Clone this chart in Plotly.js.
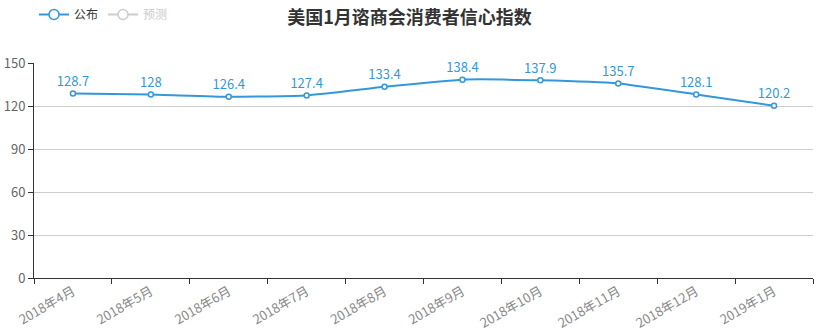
<!DOCTYPE html>
<html>
<head>
<meta charset="utf-8">
<script src="https://cdn.plot.ly/plotly-3.0.1.min.js"></script>
<style>html,body{margin:0;padding:0;background:#fff;}#chart{width:819px;height:333px;}</style>
</head>
<body>
<div id="chart"></div>
<script>
const categories = ["2018年4月","2018年5月","2018年6月","2018年7月","2018年8月","2018年9月","2018年10月","2018年11月","2018年12月","2019年1月"];
const published = [128.7, 128, 126.4, 127.4, 133.4, 138.4, 137.9, 135.7, 128.1, 120.2];
const forecast = [null, null, null, null, null, null, null, null, null, null];
const yTicks = [0, 30, 60, 90, 120, 150];

const font = '"Noto Sans CJK SC", "Noto Sans", sans-serif';
const blue = '#3398DB';
const gray = '#cccccc';

const traces = [
  {
    name: '公布',
    x: categories,
    y: published,
    type: 'scatter',
    mode: 'lines+markers+text',
    text: published.map(String),
    textposition: 'top center',
    textfont: {family: font, size: 13, color: blue},
    line: {color: blue, width: 2, shape: 'spline', smoothing: 0.4},
    marker: {symbol: 'circle', size: 5, color: '#fff', line: {color: blue, width: 1.5}},
    cliponaxis: false,
    showlegend: false,
    hoverinfo: 'x+y'
  },
  {
    name: '公布',
    x: categories,
    y: forecast,
    type: 'scatter',
    mode: 'lines+markers',
    line: {color: blue, width: 2},
    marker: {symbol: 'circle', size: 10, color: '#fff', line: {color: blue, width: 1.5}},
    hoverinfo: 'skip'
  },
  {
    name: '<span style="color:#cccccc">预测</span>',
    x: categories,
    y: forecast,
    type: 'scatter',
    mode: 'lines+markers',
    line: {color: gray, width: 2},
    marker: {symbol: 'circle', size: 10, color: '#fff', line: {color: gray, width: 1.5}},
    hoverinfo: 'skip'
  }
];

const layout = {
  width: 819,
  height: 333,
  margin: {l: 34, r: 6, t: 63, b: 55, autoexpand: false},
  paper_bgcolor: '#fff',
  plot_bgcolor: '#fff',
  font: {family: font, size: 12, color: '#666'},
  title: {
    text: '<b>美国1月谘商会消费者信心指数</b>',
    font: {family: font, size: 18, color: '#333'},
    x: 0.5, xanchor: 'center', xref: 'container',
    y: 0.946, yanchor: 'middle', yref: 'container'
  },
  showlegend: true,
  legend: {
    orientation: 'h',
    x: 0, xanchor: 'left', y: 1.0, yref: 'container', yanchor: 'top',
    font: {family: font, size: 12, color: '#333'},
    itemwidth: 30,
    bgcolor: 'rgba(0,0,0,0)'
  },
  xaxis: {
    type: 'category',
    range: [-0.5, categories.length - 0.5],
    automargin: false,
    tickson: 'boundaries',
    ticks: 'outside',
    ticklen: 5,
    tickcolor: '#333',
    showline: true,
    linecolor: '#333',
    linewidth: 1,
    showgrid: false,
    tickangle: -30,
    tickfont: {family: font, size: 13, color: '#888'},
    fixedrange: true
  },
  yaxis: {
    automargin: false,
    range: [0, 150],
    tickvals: yTicks,
    ticktext: yTicks.map(String),
    ticks: 'outside',
    ticklen: 5,
    tickcolor: '#333',
    showline: true,
    linecolor: '#333',
    linewidth: 1,
    showgrid: true,
    gridcolor: '#ccc',
    zeroline: false,
    tickfont: {family: font, size: 13, color: '#666'},
    fixedrange: true
  }
};

Plotly.newPlot('chart', traces, layout, {displayModeBar: false, staticPlot: true});
</script>
</body>
</html>
